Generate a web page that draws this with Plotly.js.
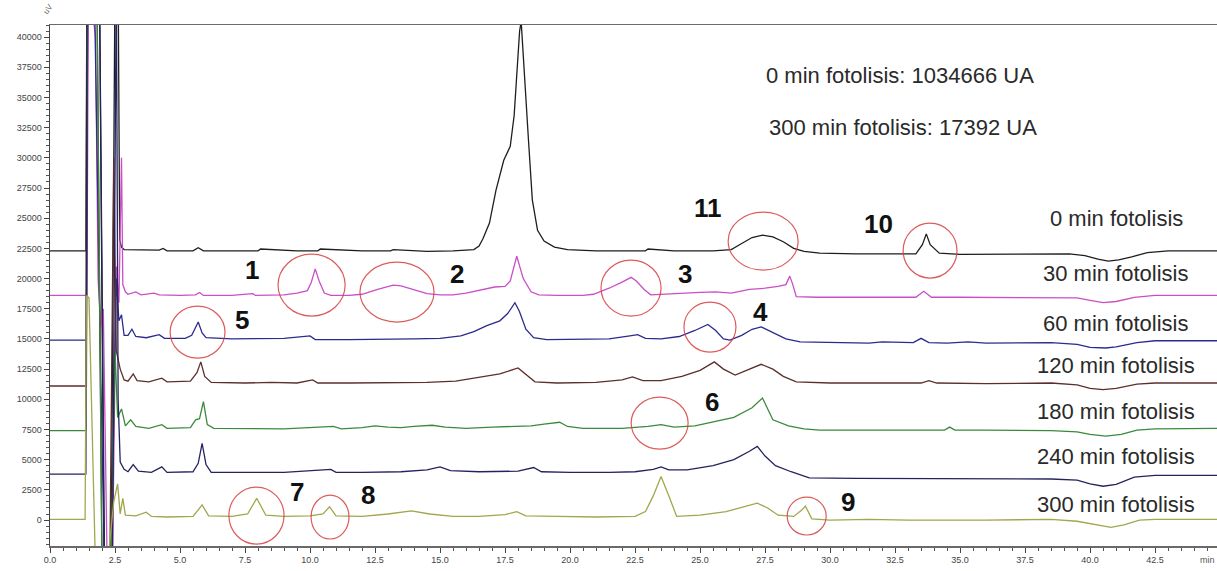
<!DOCTYPE html>
<html>
<head>
<meta charset="utf-8">
<script src="https://cdn.plot.ly/plotly-3.0.1.min.js"></script>
<style>
  html, body { margin: 0; padding: 0; background: #fff; }
  #chart { width: 1217px; height: 571px; }
</style>
</head>
<body>
<div id="chart"></div>
<script>
// Chromatograms (µV vs. retention time, min) after different photolysis times.
// Each trace is stacked at its own baseline offset, as recorded.

const seriesLabels = ['0 min fotolisis', '30 min fotolisis', '60 min fotolisis', '120 min fotolisis',
                      '180 min fotolisis', '240 min fotolisis', '300 min fotolisis'];

// 0 min
const time0 = [0, 1.38, 1.42, 1.9, 2.08, 2.35, 2.5, 2.62, 2.68, 2.75, 2.85, 3.5, 4.2, 4.35, 4.5, 5.5, 5.7, 5.9,
  7.0, 8.0, 8.1, 9.5, 10.3, 10.4, 12.0, 13.1, 13.2, 14.5, 15.5, 16.3, 16.5, 16.65, 16.9, 17.15, 17.45, 17.7,
  17.85, 17.97, 18.06, 18.12, 18.25, 18.4, 18.55, 18.75, 19.0, 19.4, 19.9, 21.0, 22.0, 22.9, 23.0, 24.0, 25.5,
  26.2, 26.6, 27.0, 27.4, 27.8, 28.2, 28.6, 29.0, 29.6, 31.0, 32.5, 33.3, 33.55, 33.7, 33.85, 34.2, 35.0, 36.5,
  38.0, 39.2, 39.8, 40.3, 40.7, 41.1, 41.6, 42.2, 43.0, 44.9];
const signal0 = [22300, 22300, 45000, 45000, -4000, -4000, 45000, 45000, 23200, 22600, 22400, 22350, 22350, 22500,
  22300, 22300, 22550, 22300, 22300, 22300, 22450, 22300, 22300, 22450, 22300, 22300, 22400, 22250, 22300, 22400,
  22700, 23300, 24600, 27300, 29800, 30950, 33500, 37500, 40500, 41300, 36500, 31500, 26500, 24000, 23100, 22600,
  22400, 22300, 22300, 22300, 22450, 22300, 22300, 22400, 22900, 23400, 23600, 23450, 23050, 22500, 22250, 22100,
  22050, 22050, 22050, 22800, 23700, 22800, 22100, 22000, 22000, 22000, 22050, 21900, 21600, 21450, 21550, 21800,
  22150, 22300, 22300];

// 30 min
const time30 = [0, 1.42, 1.48, 1.75, 1.85, 1.95, 2.05, 2.2, 2.4, 2.55, 2.65, 2.75, 2.8, 2.9, 3.0, 3.3, 3.5, 4.0,
  4.2, 5.0, 5.6, 5.75, 5.9, 7.0, 7.8, 7.9, 9.0, 9.5, 9.9, 10.05, 10.2, 10.35, 10.55, 10.8, 11.5, 12.0, 12.6, 13.2,
  13.5, 14.0, 14.5, 15.0, 15.5, 16.0, 16.6, 17.1, 17.5, 17.7, 17.95, 18.2, 18.5, 18.8, 19.5, 20.5, 20.9, 21.5,
  22.0, 22.35, 22.55, 22.85, 23.1, 23.5, 24.2, 25.0, 25.6, 26.2, 26.9, 27.5, 28.0, 28.3, 28.45, 28.55, 28.7,
  29.5, 31.0, 33.3, 33.6, 33.9, 35.0, 38.0, 39.5, 40.0, 40.5, 41.0, 41.7, 42.5, 44.9];
const signal30 = [18600, 18600, 45000, 40000, 20000, 16000, 17500, -4000, -4000, 21000, 18000, 30000, 19500,
  18900, 18700, 18900, 18650, 18800, 18650, 18600, 18650, 18850, 18600, 18600, 18750, 18600, 18650, 18800, 19000,
  19700, 20800, 19800, 18800, 18600, 18600, 18700, 19100, 19450, 19400, 19050, 18750, 18650, 18650, 18800, 19100,
  19300, 19350, 19800, 21850, 20000, 18900, 18650, 18600, 18600, 18700, 19200, 19700, 20100, 19800, 19100, 18650,
  18700, 18750, 18850, 18900, 18800, 19100, 19200, 19350, 19500, 20200, 19600, 18500, 18450, 18450, 18450, 18950,
  18450, 18450, 18450, 18400, 18200, 18000, 18100, 18450, 18600, 18600];

// 60 min
const time60 = [0, 1.4, 1.45, 1.7, 1.95, 2.1, 2.35, 2.55, 2.65, 2.75, 2.85, 3.0, 3.15, 3.3, 3.7, 4.2, 4.4, 5.2,
  5.45, 5.7, 5.85, 6.0, 7.0, 8.5, 9.0, 10.0, 10.2, 11.5, 13.0, 14.0, 15.0, 15.8, 16.3, 16.8, 17.3, 17.6, 17.88,
  18.05, 18.3, 18.6, 19.1, 20.5, 21.5, 22.3, 22.6, 22.9, 23.5, 24.2, 24.8, 25.3, 25.6, 25.9, 26.15, 26.6, 27.0,
  27.35, 27.8, 28.3, 28.85, 30.0, 31.5, 32.0, 33.2, 33.5, 33.8, 34.5, 35.3, 36.0, 38.5, 39.5, 40.0, 40.6, 41.0,
  41.8, 42.5, 44.9];
const signal60 = [14900, 14900, 45000, 45000, 12000, -4000, -4000, 20000, 16500, 17000, 15300, 15300, 15800, 15200,
  15100, 15350, 15050, 15050, 15300, 16400, 15500, 15100, 15000, 15000, 15050, 15250, 14950, 14950, 14950, 15000,
  15050, 15250, 15600, 16100, 16500, 17100, 18000, 17300, 15800, 15100, 14950, 14950, 15000, 15250, 15350, 15050,
  15000, 15200, 15700, 16200, 15700, 15000, 14900, 15300, 15800, 16000, 15500, 15000, 14750, 14700, 14650, 14750,
  14700, 15050, 14700, 14650, 14750, 14650, 14700, 14550, 14300, 14250, 14350, 14700, 14850, 14850];

// 120 min
const time120 = [0, 1.4, 1.45, 1.8, 2.0, 2.3, 2.45, 2.55, 2.7, 2.85, 3.0, 3.2, 3.35, 3.8, 4.3, 4.5, 5.4, 5.65,
  5.8, 5.95, 6.2, 7.5, 8.5, 9.5, 10.1, 10.3, 11.5, 13.0, 14.5, 15.6, 16.5, 17.3, 18.0, 18.35, 18.65, 19.5, 21.0,
  22.0, 22.4, 22.8, 23.5, 24.3, 25.0, 25.55, 25.9, 26.35, 26.8, 27.35, 27.8, 28.2, 28.7, 30.0, 32.0, 33.5, 33.8,
  34.1, 36.0, 38.5, 39.5, 40.0, 40.5, 41.0, 41.8, 42.5, 44.9];
const signal120 = [11100, 11100, 45000, 45000, -4000, -4000, 30000, 14000, 12500, 11600, 11500, 12100, 11550,
  11450, 11750, 11450, 11500, 12200, 13100, 11900, 11400, 11350, 11400, 11350, 11600, 11350, 11350, 11350, 11400,
  11500, 11800, 12100, 12600, 12000, 11450, 11350, 11400, 11600, 11850, 11550, 11550, 11900, 12400, 13100, 12500,
  12000, 12400, 12900, 12500, 11900, 11450, 11350, 11350, 11350, 11550, 11350, 11300, 11350, 11200, 10900, 10800,
  10900, 11250, 11350, 11350];

// 180 min
const time180 = [0, 1.38, 1.42, 1.8, 2.0, 2.35, 2.5, 2.6, 2.75, 2.9, 3.1, 3.3, 3.8, 4.3, 4.5, 5.4, 5.6, 5.75,
  5.9, 6.05, 6.3, 7.5, 9.0, 10.9, 11.2, 12.0, 12.5, 13.0, 13.5, 14.0, 14.7, 15.2, 16.0, 17.0, 17.8, 18.5, 19.0,
  19.6, 19.9, 20.5, 22.0, 23.0, 23.5, 24.0, 24.8, 25.5, 26.3, 27.0, 27.4, 27.8, 28.4, 29.0, 29.6, 31.0, 33.0,
  34.4, 34.6, 34.8, 36.0, 38.5, 39.5, 40.0, 40.6, 41.2, 41.8, 42.5, 44.9];
const signal180 = [7400, 7400, 45000, 45000, -4000, -4000, 14000, 8500, 9200, 7800, 8300, 7750, 7600, 7900, 7600,
  7650, 8300, 8400, 9800, 7900, 7600, 7550, 7550, 7750, 7550, 7650, 7800, 7700, 7650, 7750, 7850, 7700, 7600, 7700,
  7750, 7800, 7950, 8100, 7750, 7600, 7600, 7750, 7900, 7700, 7800, 8100, 8500, 9300, 10100, 8300, 7800, 7550,
  7450, 7450, 7450, 7450, 7700, 7450, 7450, 7400, 7300, 7100, 6950, 7100, 7450, 7550, 7600];

// 240 min
const time240 = [0, 1.38, 1.42, 1.9, 2.1, 2.4, 2.55, 2.62, 2.7, 2.85, 3.0, 3.2, 3.4, 3.9, 4.3, 4.5, 5.5, 5.7,
  5.85, 6.0, 6.2, 7.5, 9.0, 10.8, 11.0, 12.0, 13.5, 14.5, 15.0, 15.4, 16.5, 18.0, 18.6, 18.9, 20.0, 21.5, 22.5,
  23.2, 23.5, 23.8, 24.5, 25.5, 26.3, 26.9, 27.2, 27.5, 27.9, 28.5, 29.2, 31.0, 34.0, 37.5, 38.5, 39.5, 40.0,
  40.5, 41.0, 41.7, 42.5, 44.9];
const signal240 = [3800, 3800, 45000, 45000, -4000, -4000, 45000, 10000, 4800, 4200, 4000, 4600, 4050, 3950, 4400,
  3950, 4000, 4700, 6350, 4600, 3950, 3950, 3950, 4200, 3950, 3950, 4000, 4150, 4400, 4100, 4000, 4050, 4350, 4000,
  3950, 3950, 4000, 4200, 4400, 4150, 4150, 4500, 5000, 5700, 6100, 5300, 4500, 4000, 3500, 3450, 3450, 3450, 3400,
  3300, 3000, 2800, 2950, 3550, 3700, 3700];

// 300 min
const time300 = [0, 1.35, 1.4, 1.5, 1.75, 2.2, 2.45, 2.6, 2.7, 2.8, 2.9, 3.3, 3.7, 3.9, 4.5, 5.5, 5.85, 6.1, 7.0,
  7.6, 7.95, 8.3, 9.0, 10.0, 10.5, 10.75, 11.0, 12.0, 13.0, 13.9, 14.6, 15.5, 16.5, 17.5, 17.95, 18.3, 19.5, 21.0,
  22.5, 22.9, 23.2, 23.5, 23.8, 24.1, 25.0, 26.0, 27.2, 27.6, 28.0, 28.6, 28.9, 29.05, 29.3, 30.0, 31.5, 33.0,
  36.0, 38.5, 39.5, 40.2, 40.8, 41.3, 41.9, 42.5, 44.9];
const signal300 = [50, 50, 18600, 18400, -4000, -4000, 1500, 3000, 500, 1800, 400, 350, 650, 300, 250, 300, 1250,
  350, 300, 500, 1800, 400, 300, 350, 500, 1100, 350, 300, 500, 750, 500, 300, 300, 450, 700, 350, 300, 250, 300,
  700, 2000, 3600, 2000, 300, 400, 700, 1400, 1000, 400, 300, 800, 1150, 100, 0, 50, 0, 0, 50, -100, -400, -600,
  -400, 0, 50, 50];

const seriesTimes = [time0, time30, time60, time120, time180, time240, time300];
const seriesSignals = [signal0, signal30, signal60, signal120, signal180, signal240, signal300];

// Peak numbers
const peakNumbers = ['1', '2', '3', '4', '5', '6', '7', '8', '9', '10', '11'];

// Styling
const lineColors = ['#1e1e1e', '#c94fc6', '#2b2b8c', '#5e2e2e', '#3b8a3b', '#23235f', '#a2a64c'];
const labelFont = 'Liberation Sans, Arial, sans-serif';

const traces = seriesTimes.map((t, i) => ({
  type: 'scatter',
  mode: 'lines',
  x: t,
  y: seriesSignals[i],
  name: seriesLabels[i],
  line: { color: lineColors[i], width: 1.3 },
  hoverinfo: 'skip'
}));

// Placement of the series labels (time, µV)
const seriesLabelPos = [[41.0, 25000], [41.0, 20450], [41.0, 16300], [41.0, 12800],
                        [41.0, 8950], [41.0, 5300], [41.0, 1250]];
// Placement of the peak numbers (time, µV)
const peakNumberPos = [[7.77, 20700], [15.65, 20370], [24.42, 20370], [27.31, 17220], [7.38, 16560],
  [25.46, 9770], [9.5, 2320], [12.23, 2070], [30.69, 1490], [31.85, 24510], [25.31, 25830]];
// Circled regions [t0, t1, v0, v1]
const circleBoxes = [[8.77, 11.35, 16890, 22025], [11.92, 14.77, 16395, 21360], [21.19, 23.5, 16890, 21530],
  [24.38, 26.38, 13910, 18050], [4.62, 6.73, 13410, 17720], [22.35, 24.54, 5880, 10180],
  [6.88, 9.0, -1990, 2730], [10.04, 11.5, -1570, 2070], [28.35, 29.85, -1240, 1900],
  [32.81, 34.88, 20040, 24590], [26.08, 28.77, 20700, 25500]];

const annotations = [];
seriesLabels.forEach((s, i) => annotations.push({
  x: seriesLabelPos[i][0], y: seriesLabelPos[i][1], xref: 'x', yref: 'y',
  text: s, showarrow: false, xanchor: 'center', yanchor: 'middle',
  font: { family: labelFont, size: 22, color: '#2a2a2a' }
}));
peakNumbers.forEach((n, i) => annotations.push({
  x: peakNumberPos[i][0], y: peakNumberPos[i][1], xref: 'x', yref: 'y',
  text: '<b>' + n + '</b>', showarrow: false, xanchor: 'center', yanchor: 'middle',
  font: { family: 'Liberation Sans, Arial, sans-serif', size: 26, color: '#111' }
}));
annotations.push({
  x: 32.7, y: 36850, xref: 'x', yref: 'y', text: '0 min fotolisis: 1034666 UA',
  showarrow: false, xanchor: 'center', yanchor: 'middle',
  font: { family: labelFont, size: 22, color: '#2a2a2a' }
});
annotations.push({
  x: 32.8, y: 32550, xref: 'x', yref: 'y', text: '300 min fotolisis: 17392 UA',
  showarrow: false, xanchor: 'center', yanchor: 'middle',
  font: { family: labelFont, size: 22, color: '#2a2a2a' }
});
annotations.push({
  x: -0.002, y: 1.012, xref: 'paper', yref: 'paper', text: 'uV', showarrow: false,
  xanchor: 'center', yanchor: 'bottom', textangle: -55,
  font: { family: 'Liberation Sans, Arial, sans-serif', size: 8, color: '#666' }
});
annotations.push({
  x: 1, y: 0, xref: 'paper', yref: 'paper', yshift: -14, text: 'min', showarrow: false,
  xanchor: 'right', yanchor: 'middle',
  font: { family: 'Liberation Sans, Arial, sans-serif', size: 9, color: '#555' }
});

const shapes = circleBoxes.map(b => ({
  type: 'circle', xref: 'x', yref: 'y',
  x0: b[0], x1: b[1], y0: b[2], y1: b[3],
  line: { color: 'rgba(214,62,62,0.85)', width: 1.2 }
}));

const layout = {
  width: 1217, height: 571,
  margin: { l: 50, r: 0, t: 25, b: 25 },
  paper_bgcolor: '#ffffff', plot_bgcolor: '#ffffff',
  showlegend: false, hovermode: false,
  xaxis: {
    range: [0, 44.88], tickmode: 'linear', tick0: 0, dtick: 2.5, tickformat: '.1f',
    showgrid: false, zeroline: false, showline: true, mirror: true,
    linecolor: '#6a6a6a', linewidth: 1.5,
    ticks: 'outside', ticklen: 5, tickcolor: '#444', tickwidth: 1,
    minor: { dtick: 0.5, ticks: 'outside', ticklen: 3, tickcolor: '#555', showgrid: false },
    tickfont: { family: 'Liberation Sans, Arial, sans-serif', size: 9, color: '#444' }
  },
  yaxis: {
    range: [-2150, 41000], tickmode: 'linear', tick0: 0, dtick: 2500, tickformat: 'd',
    showgrid: false, zeroline: false, showline: true,
    linecolor: '#444', linewidth: 1.5,
    ticks: 'outside', ticklen: 5, tickcolor: '#444', tickwidth: 1,
    minor: { dtick: 500, ticks: 'outside', ticklen: 3, tickcolor: '#555', showgrid: false },
    tickfont: { family: 'Liberation Sans, Arial, sans-serif', size: 9, color: '#444' }
  },
  annotations: annotations,
  shapes: shapes
};

Plotly.newPlot('chart', traces, layout, { staticPlot: true, displayModeBar: false });
</script>
</body>
</html>
